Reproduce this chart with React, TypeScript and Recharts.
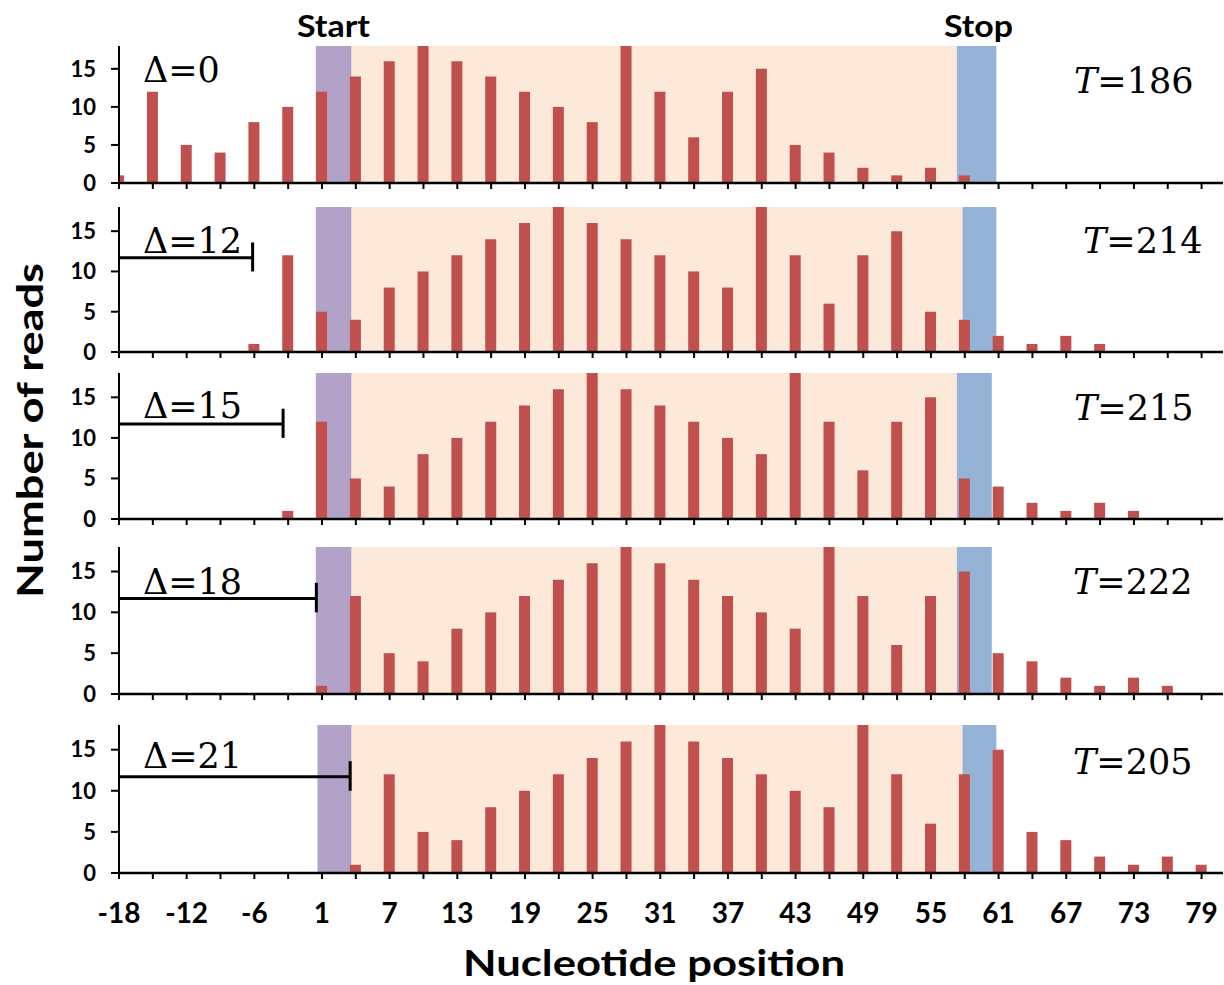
import React from "react";
import { BarChart, Bar, XAxis, YAxis, ReferenceArea, ReferenceLine } from "recharts";

// nucleotide positions that carry a bar (every third, no position 0)
const POSITIONS = [-18, -15, -12, -9, -6, -3, 1, 4, 7, 10, 13, 16, 19, 22, 25, 28, 31, 34, 37, 40, 43, 46, 49, 52, 55, 58, 61, 64, 67, 70, 73, 76, 79];

// reads per position, one array per panel
const READS_D0 = [1, 12, 5, 4, 8, 10, 12, 14, 16, 18, 16, 14, 12, 10, 8, 18, 12, 6, 12, 15, 5, 4, 2, 1, 2, 1, 0, 0, 0, 0, 0, 0, 0];
const READS_D12 = [0, 0, 0, 0, 1, 12, 5, 4, 8, 10, 12, 14, 16, 18, 16, 14, 12, 10, 8, 18, 12, 6, 12, 15, 5, 4, 2, 1, 2, 1, 0, 0, 0];
const READS_D15 = [0, 0, 0, 0, 0, 1, 12, 5, 4, 8, 10, 12, 14, 16, 18, 16, 14, 12, 10, 8, 18, 12, 6, 12, 15, 5, 4, 2, 1, 2, 1, 0, 0];
const READS_D18 = [0, 0, 0, 0, 0, 0, 1, 12, 5, 4, 8, 10, 12, 14, 16, 18, 16, 14, 12, 10, 8, 18, 12, 6, 12, 15, 5, 4, 2, 1, 2, 1, 0];
const READS_D21 = [0, 0, 0, 0, 0, 0, 0, 1, 12, 5, 4, 8, 10, 12, 14, 16, 18, 16, 14, 12, 10, 8, 18, 12, 6, 12, 15, 5, 4, 2, 1, 2, 1];

const DELTAS = [0, 12, 15, 18, 21];
const TOTALS = [186, 214, 215, 222, 205];
const Y_TICKS = [0, 5, 10, 15];

// start / stop codon shading, in axis slots
const START_FROM = [17.45, 17.45, 17.45, 17.45, 17.6];
const START_TO = [20.6, 20.6, 20.6, 20.6, 20.6];
const STOP_FROM = [74.3, 74.8, 74.3, 74.3, 74.8];
const STOP_TO = [77.8, 77.8, 77.4, 77.4, 77.8];
// where the Δ bracket ends, in axis slots
const BRACKET_END = [0, 11.85, 14.55, 17.5, 20.5];

const READS = [READS_D0, READS_D12, READS_D15, READS_D18, READS_D21];

// layout of each panel's plot area (px)
const PANEL_TOP = [46, 207, 373, 547, 725];
const PANEL_BOTTOM = [183, 352, 519, 694, 873];
const T_LABEL_X = [1074, 1083, 1074, 1073, 1073];
const T_LABEL_Y = [93, 253, 420, 594, 774];
const D_LABEL_Y = [82, 253, 418, 594, 768];

const SANS = "Lato, 'Open Sans', sans-serif";
const SERIF = "'DejaVu Serif', serif";

const slot = (p: number) => (p < 0 ? p + 18 : p + 17);
const slotLabel = (s: number) => (s < 18 ? s - 18 : s - 17);
const TICK_SLOTS = POSITIONS.map(slot);

function BottomTick(props: any) {
  const { x, y, payload } = props;
  if (payload.value % 6 !== 0) return <g />;
  return (
    <text x={x} y={y + 42} textAnchor="middle" fill="#000" fontFamily={SANS} fontWeight={700} fontSize={28}>
      {slotLabel(payload.value)}
    </text>
  );
}

function Panel({ i }: { i: number }) {
  const isLast = i === READS.length - 1;
  const xAxisH = isLast ? 60 : 14;
  const mTop = 4;
  const plotH = PANEL_BOTTOM[i] - PANEL_TOP[i];
  const data = POSITIONS.map((p, k) => ({ s: slot(p), reads: READS[i][k] }));
  const end = BRACKET_END[i];

  return (
    <div style={{ position: "absolute", left: 0, top: PANEL_TOP[i] - mTop }}>
      <BarChart width={1224} height={mTop + plotH + xAxisH} data={data} margin={{ top: mTop, right: 1, left: 0, bottom: 0 }}>
        <XAxis
          type="number"
          dataKey="s"
          domain={[0, 97.9]}
          allowDataOverflow
          ticks={TICK_SLOTS}
          interval={0}
          height={xAxisH}
          tickSize={6}
          axisLine={{ stroke: "#000", strokeWidth: 2.5 }}
          tickLine={{ stroke: "#000", strokeWidth: 2 }}
          tick={isLast ? <BottomTick /> : () => <g />}
        />
        <YAxis
          type="number"
          domain={[0, 18]}
          ticks={Y_TICKS}
          interval={0}
          allowDataOverflow
          width={119}
          tickSize={8}
          tickMargin={15}
          axisLine={{ stroke: "#000", strokeWidth: 2 }}
          tickLine={{ stroke: "#000", strokeWidth: 2 }}
          tick={{ fill: "#000", fontSize: 22, fontWeight: 700, fontFamily: SANS }}
        />
        <ReferenceArea x1={START_TO[i]} x2={STOP_FROM[i]} y1={0} y2={18} fill="#FDE9D9" fillOpacity={1} stroke="none" />
        <ReferenceArea x1={START_FROM[i]} x2={START_TO[i]} y1={0} y2={18} fill="#B3A2C7" fillOpacity={1} stroke="none" />
        <ReferenceArea x1={STOP_FROM[i]} x2={STOP_TO[i]} y1={0} y2={18} fill="#95B3D7" fillOpacity={1} stroke="none" />
        <Bar dataKey="reads" fill="#C0504D" barSize={11} isAnimationActive={false} />
        {end > 0 && (
          <ReferenceLine
            segment={[{ x: 0, y: 11.7 }, { x: end, y: 11.7 }]}
            stroke="#000"
            strokeWidth={3}
          />
        )}
        {end > 0 && (
          <ReferenceLine
            segment={[{ x: end, y: 10 }, { x: end, y: 13.6 }]}
            stroke="#000"
            strokeWidth={3}
          />
        )}
      </BarChart>
    </div>
  );
}

export default function App() {
  return (
    <div style={{ position: "absolute", left: 0, top: 0, width: 1224, height: 985, background: "#fff", overflow: "hidden" }}>
      {READS.map((_, i) => (
        <Panel key={i} i={i} />
      ))}
      <svg width={1224} height={985} style={{ position: "absolute", left: 0, top: 0, pointerEvents: "none" }}>
        <text x={297} y={37} textLength={73} lengthAdjust="spacingAndGlyphs" fontFamily={SANS} fontWeight={700} fontSize={31} fill="#000">Start</text>
        <text x={944} y={37} textLength={69} lengthAdjust="spacingAndGlyphs" fontFamily={SANS} fontWeight={700} fontSize={31} fill="#000">Stop</text>
        {DELTAS.map((d, i) => (
          <text key={"d" + i} x={143} y={D_LABEL_Y[i]} fontFamily={SERIF} fontSize={35} fill="#000">
            {"\u0394=" + d}
          </text>
        ))}
        {TOTALS.map((t, i) => (
          <text key={"t" + i} x={T_LABEL_X[i]} y={T_LABEL_Y[i]} fontFamily={SERIF} fontSize={35} fill="#000">
            <tspan fontStyle="italic">T</tspan>
            {"=" + t}
          </text>
        ))}
        <text
          x={43}
          y={598}
          textLength={335}
          lengthAdjust="spacingAndGlyphs"
          transform="rotate(-90, 43, 598)"
          fontFamily={SANS}
          fontWeight={700}
          fontSize={37}
          fill="#000"
        >
          Number of reads
        </text>
        <text x={463} y={976} textLength={382} lengthAdjust="spacingAndGlyphs" fontFamily={SANS} fontWeight={700} fontSize={36} fill="#000">
          Nucleotide position
        </text>
      </svg>
    </div>
  );
}
